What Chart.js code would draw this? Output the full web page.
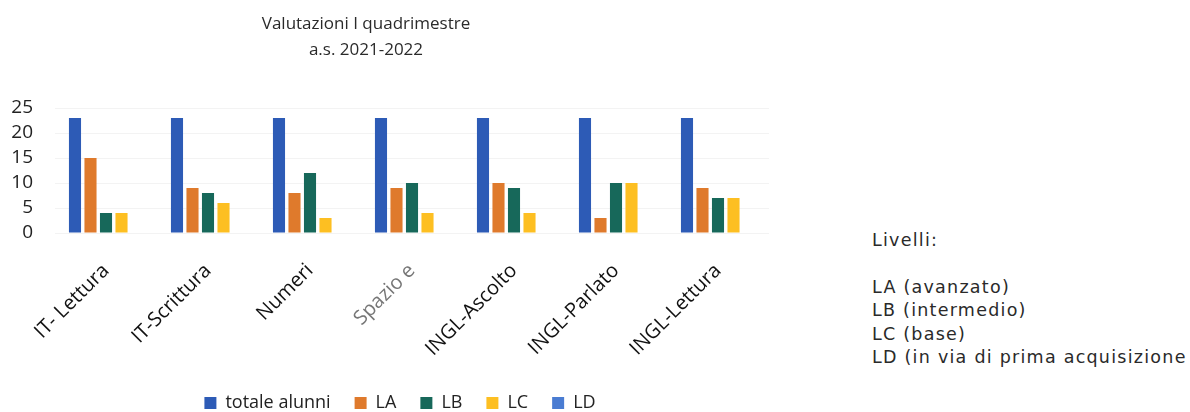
<!DOCTYPE html>
<html><head><meta charset="utf-8">
<script src="https://cdn.jsdelivr.net/npm/chart.js@4/dist/chart.umd.min.js"></script>
<style>
html,body{margin:0;padding:0;background:#fff;}
#wrap{position:relative;width:1190px;height:412px;overflow:hidden;}
#c{position:absolute;left:0;top:0;}
#title{position:absolute;left:216px;top:10px;width:300px;text-align:center;font-family:"Open Sans",sans-serif;font-size:17px;line-height:26px;color:#2a2a2a;}
#notes{position:absolute;left:872px;top:229px;font-family:"DejaVu Sans",sans-serif;font-size:17.5px;letter-spacing:1.25px;color:#2a2a2a;line-height:23.5px;white-space:nowrap;}
</style></head>
<body><div id="wrap">
<canvas id="c" width="800" height="422"></canvas>
<div id="title">Valutazioni I quadrimestre<br>a.s. 2021-2022</div>
<div id="notes">Livelli:<div style="height:23px"></div>LA (avanzato)<br>LB (intermedio)<br>LC (base)<br>LD (in via di prima acquisizione</div>
</div>
<script>
const categories = ["IT- Lettura","IT-Scrittura","Numeri","Spazio e","INGL-Ascolto","INGL-Parlato","INGL-Lettura"];
const totaleAlunni = [23,23,23,23,23,23,23];
const LA = [15,9,8,9,10,3,9];
const LB = [4,8,12,10,9,10,7];
const LC = [4,6,3,4,4,10,7];
const LD = [0,0,0,0,0,0,0];
const yTicks = [0,5,10,15,20,25];

const colors = ["#2D5BB6","#DF7A2C","#17685A","#FDBF22","#4A7CD2"];
const names = ["totale alunni","LA","LB","LC","LD"];
const series = [totaleAlunni, LA, LB, LC, LD];

new Chart(document.getElementById('c'), {
  type: 'bar',
  data: {
    labels: categories,
    datasets: series.map((d,i)=>({label:names[i], data:d, backgroundColor:colors[i], borderWidth:0}))
  },
  options: {
    responsive:false, animation:false,
    layout:{padding:{top:108,right:0,left:0,bottom:0}},
    datasets:{bar:{categoryPercentage:0.76,barPercentage:0.78}},
    plugins:{
      legend:{position:'bottom',labels:{font:{family:"Open Sans",size:18},color:'#222',boxWidth:12,boxHeight:12,padding:24}},
      title:{display:false}, tooltip:{enabled:false}
    },
    scales:{
      x:{grid:{display:false},border:{display:false},
         afterFit:(s)=>{s.height = 137;},
         ticks:{minRotation:45,maxRotation:45,padding:18,font:{family:"Open Sans",size:20},
           color:(ctx)=> ctx.index===3 ? '#777' : '#111'}},
      y:{min:0,max:25,grid:{color:'#f3f3f3',drawTicks:false},border:{display:false},
         afterFit:(s)=>{s.width=55;},
         afterBuildTicks:(s)=>{s.ticks = yTicks.map(v=>({value:v}));},
         ticks:{autoSkip:false,padding:22,font:{family:"Open Sans",size:19},color:'#222'}},
      yRight:{position:'right',min:0,max:25,grid:{display:false},border:{display:false},
         ticks:{display:false},afterFit:(s)=>{s.width=31;}}
    }
  }
});
</script>
</body></html>
